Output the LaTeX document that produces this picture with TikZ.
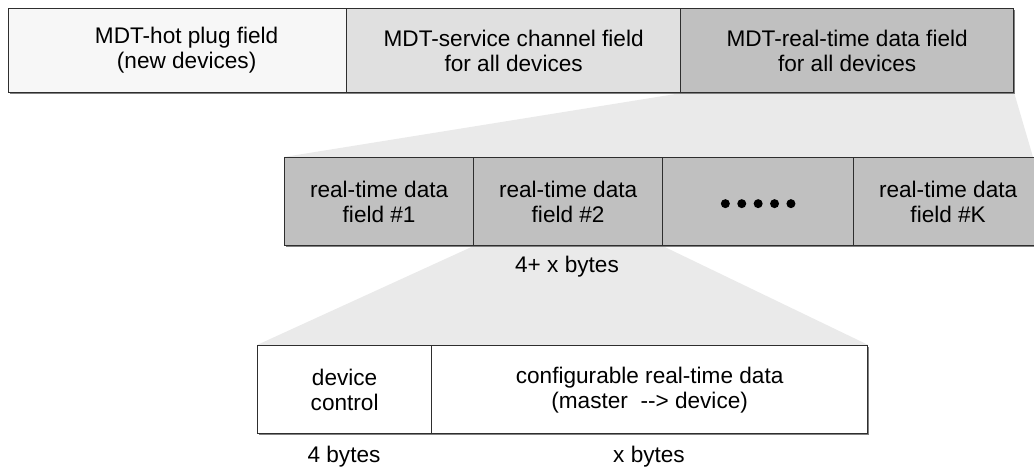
\documentclass[tikz,border=0pt]{standalone}
\usepackage{fontspec}
\setmainfont{Liberation Sans}
\usetikzlibrary{shadows,backgrounds}

\definecolor{hotfill}{HTML}{F7F7F7}
\definecolor{svcfill}{HTML}{E0E0E0}
\definecolor{rtfill}{HTML}{C0C0C0}
\definecolor{fanfill}{HTML}{EAEAEA}
\definecolor{edge}{HTML}{2E2E2E}

\tikzset{
  field/.style={draw=edge, line width=1.3pt, rectangle, anchor=north west,
    inner sep=0pt, align=center, font=\fontsize{22.6}{25}\selectfont,
    drop shadow={shadow xshift=1.2pt, shadow yshift=-1.2pt, fill=black!50, opacity=1}},
  topfield/.style={field, minimum height=84pt},
  rtfield/.style={field, fill=rtfill, minimum height=88pt, minimum width=189pt},
  subfield/.style={field, fill=white, minimum height=88pt},
  fan/.style={fill=fanfill},
  sizelabel/.style={font=\fontsize{22.6}{25}\selectfont, inner sep=0pt}
}

\begin{document}
\begin{tikzpicture}[x=1pt, y=-1pt]

  \useasboundingbox (0, 0) rectangle (1034, 468);

  % coordinates: pixels of the original, y pointing down
  \coordinate (fanR) at (1033, 157);

  % top frame
  \node[topfield, fill=hotfill, minimum width=338pt] (hot) at (8, 8)
    {\hspace*{18pt}MDT-hot plug field\\\hspace*{18pt}(new devices)};
  \node[topfield, fill=svcfill, minimum width=334pt] (svc) at (346, 8)
    {MDT-service channel field\\for all devices};
  \node[topfield, fill=rtfill, minimum width=333pt] (rtd) at (680, 8)
    {MDT-real-time data field\\for all devices};

  % real-time data fields
  \node[rtfield] (rt1) at (284, 157) {real-time data\\field \#1};
  \node[rtfield] (rt2) at (473, 157) {real-time data\\field \#2};
  \node[rtfield, minimum width=191pt] (rtdots) at (662, 157) {};
  \node[rtfield] (rtK) at (853, 157) {real-time data\\field \#K};

  \foreach \i in {-2, ..., 2}{
      \fill ([xshift=\i*16.4pt, yshift=-2pt]rtdots.center) circle (4.5pt);
    }

  \node[sizelabel] (rtsize) at (567, 267) {4+ x bytes};

  % one field in detail
  \node[subfield, minimum width=174pt] (ctrl) at (257, 345) {device\\control};
  \node[subfield, minimum width=436pt] (cfg) at (431, 345)
    {configurable real-time data\\(master~~-{}-> device)};

  \node[sizelabel] (ctrlsize) at (344, 457) {4 bytes};
  \node[sizelabel] (cfgsize) at (649, 457) {x bytes};

  % zoom fans
  \begin{pgfonlayer}{background}
    \fill[fan] (rtd.south west) -- (rtd.south east) -- (fanR)
      -- (rt1.north west) -- cycle;
    \fill[fan] (rt2.south west) -- (rt2.south east) -- (cfg.north east)
      -- (ctrl.north west) -- cycle;
  \end{pgfonlayer}

\end{tikzpicture}
\end{document}
